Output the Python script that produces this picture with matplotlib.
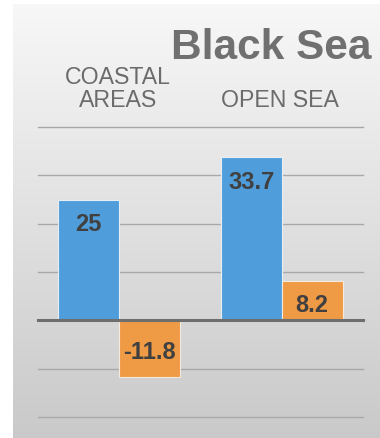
import numpy as np
import matplotlib
matplotlib.use("Agg")
import matplotlib.pyplot as plt
import matplotlib.transforms as mtransforms

categories = ["COASTAL\nAREAS", "OPEN SEA"]
series_a = [25, 33.7]
series_b = [-11.8, 8.2]
title = "Black Sea"

plt.rcParams['font.family'] = ['Liberation Sans', 'DejaVu Sans']

W, H = 380, 439
fig = plt.figure(figsize=(W / 100, H / 100), dpi=100)
fig.patch.set_facecolor("white")

# gradient panel
bg = fig.add_axes([13 / W, 0, 1 - 13 / W, (H - 5) / H])
grad = np.linspace(0, 1, 256).reshape(-1, 1)
top_c = np.array([0.97, 0.97, 0.97])
bot_c = np.array([0.79, 0.79, 0.79])
img = top_c[None, None, :] * (1 - grad[:, :, None]) + bot_c[None, None, :] * grad[:, :, None]
bg.imshow(img, aspect="auto", extent=[0, 1, 0, 1])
bg.set_axis_off()

ax = fig.add_axes([38 / W, (H - 418) / H, 325 / W, (418 - 128) / H])
ax.patch.set_alpha(0)
x = np.arange(len(categories))
w = 0.375
blue = "#4F9EDB"
orange = "#EF9A45"
ba = ax.bar(x - w / 2, series_a, w, color=blue, edgecolor="#e8eef5", linewidth=0.8, zorder=3)
bb = ax.bar(x + w / 2, series_b, w, color=orange, edgecolor="#f5e8dc", linewidth=0.8, zorder=3)
ax.set_xlim(-0.5, 1.5)
ax.set_ylim(-20, 40)
for yv in range(-20, 41, 10):
    if yv == 0:
        continue
    ax.axhline(yv, color="#a8a8a8", linewidth=1.0, zorder=1, clip_on=False)
ax.axhline(0, color="#6e6e6e", linewidth=2.2, zorder=4, clip_on=False)
for s in ax.spines.values():
    s.set_visible(False)
ax.set_xticks([])
ax.set_yticks([])

lblc = "#404040"
for bars, vals in ((ba, series_a), (bb, series_b)):
    for r, v in zip(bars, vals):
        cx = r.get_x() + r.get_width() / 2
        txt = f"{v:g}"
        if v >= 0:
            ax.annotate(txt, (cx, v), xytext=(0, -9), textcoords="offset points",
                        ha="center", va="top", fontsize=17, fontweight="bold", color=lblc, zorder=5)
        else:
            ax.annotate(txt, (cx, v), xytext=(0, 10), textcoords="offset points",
                        ha="center", va="bottom", fontsize=17, fontweight="bold", color=lblc, zorder=5)

trans = mtransforms.blended_transform_factory(ax.transData, fig.transFigure)
for xi, c in zip(x, categories):
    ax.text(xi - 0.01, (H - 107) / H, c, transform=trans, ha="center", va="baseline",
            multialignment="center", fontsize=16.7, color="#6b6b6b", linespacing=1.02)

fig.text(171 / W, (H - 59) / H, title, ha="left", va="baseline", fontsize=30.5,
         fontweight="bold", color="#707070")

fig.savefig("out.png", dpi=100)
